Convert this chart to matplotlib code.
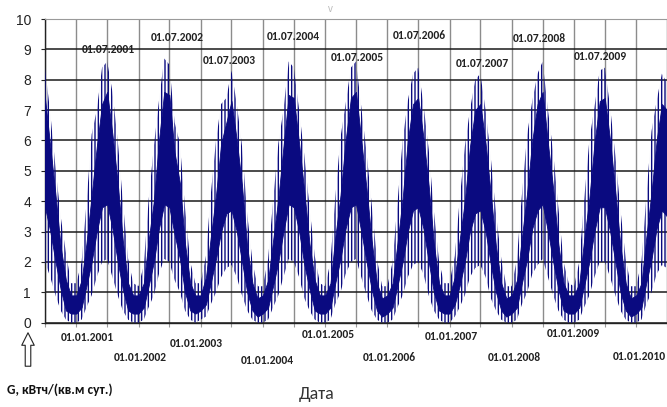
import pandas as pd
import matplotlib
matplotlib.use("Agg")
import matplotlib.pyplot as plt
import matplotlib.dates as mdates

# monthly points, 01.07.2000 ... 01.07.2010
dates = pd.date_range("2000-07-01", "2010-07-01", freq="MS")

# tops of daily spikes, kWh/(m2 day)
g_upper = [
    8.4, 6.9, 5.1, 3.5, 2.3, 1.3, 1.3, 2.0, 3.9, 6.2, 7.0, 8.4,
    8.6, 7.6, 6.0, 4.0, 2.1, 1.3, 1.2, 1.9, 4.0, 5.8, 7.3, 8.7,
    8.5, 6.6, 5.9, 3.8, 2.0, 1.3, 1.3, 2.2, 4.2, 6.0, 7.2, 7.4,
    8.3, 7.2, 5.8, 3.6, 2.0, 1.2, 1.2, 2.1, 4.0, 5.9, 7.0, 8.6,
    8.4, 7.0, 5.5, 3.8, 2.2, 1.3, 1.2, 2.0, 4.1, 6.1, 7.2, 8.4,
    8.6, 7.1, 5.6, 3.9, 2.1, 1.2, 1.2, 2.0, 3.9, 6.0, 7.3, 8.2,
    8.4, 7.2, 5.7, 3.7, 2.0, 1.3, 1.3, 2.2, 4.0, 5.8, 7.0, 8.0,
    8.2, 7.0, 5.4, 3.6, 2.1, 1.2, 1.2, 2.1, 4.2, 6.2, 7.3, 8.2,
    8.6, 7.0, 5.6, 3.8, 2.0, 1.3, 1.2, 2.0, 4.0, 6.0, 7.1, 8.3,
    8.4, 7.1, 5.5, 3.7, 2.1, 1.2, 1.2, 2.0, 4.1, 6.3, 7.3, 8.2,
    7.9,
]

# dense part of the daily values
g_core_hi = [
    7.4, 5.8, 4.2, 2.5, 1.4, 0.9, 0.9, 1.4, 2.6, 4.2, 5.8, 7.2,
    7.6, 6.2, 4.6, 2.7, 1.3, 0.9, 0.9, 1.3, 2.7, 4.0, 6.0, 7.6,
    7.5, 5.6, 4.6, 2.6, 1.3, 0.9, 0.9, 1.5, 2.8, 4.2, 5.9, 6.6,
    7.3, 6.0, 4.5, 2.5, 1.3, 0.8, 0.9, 1.4, 2.7, 4.1, 5.8, 7.5,
    7.4, 5.9, 4.3, 2.6, 1.4, 0.9, 0.9, 1.3, 2.8, 4.2, 6.0, 7.4,
    7.6, 6.0, 4.4, 2.7, 1.3, 0.8, 0.9, 1.3, 2.6, 4.1, 6.0, 7.2,
    7.4, 6.1, 4.5, 2.6, 1.3, 0.9, 0.9, 1.5, 2.7, 4.0, 5.8, 7.0,
    7.2, 5.9, 4.2, 2.5, 1.3, 0.8, 0.9, 1.4, 2.8, 4.3, 6.0, 7.2,
    7.6, 5.9, 4.4, 2.6, 1.3, 0.9, 0.9, 1.3, 2.7, 4.1, 5.9, 7.3,
    7.4, 6.0, 4.3, 2.5, 1.3, 0.8, 0.9, 1.3, 2.8, 4.3, 6.0, 7.2,
    7.0,
]

g_core_lo = [
    3.8, 3.0, 2.0, 1.1, 0.4, 0.3, 0.3, 0.5, 1.2, 2.0, 3.0, 3.8,
    3.9, 3.1, 2.0, 1.1, 0.4, 0.3, 0.3, 0.5, 1.2, 2.0, 3.1, 3.9,
    3.8, 2.9, 2.1, 1.0, 0.4, 0.3, 0.4, 0.6, 1.3, 2.1, 3.0, 3.6,
    3.7, 3.0, 2.0, 1.0, 0.4, 0.2, 0.3, 0.5, 1.2, 2.0, 3.0, 3.9,
    3.8, 3.0, 1.9, 1.1, 0.4, 0.3, 0.3, 0.5, 1.3, 2.1, 3.1, 3.8,
    3.9, 3.0, 2.0, 1.1, 0.4, 0.2, 0.3, 0.5, 1.2, 2.0, 3.0, 3.7,
    3.8, 3.1, 2.0, 1.0, 0.4, 0.3, 0.3, 0.6, 1.2, 2.0, 3.0, 3.6,
    3.7, 3.0, 1.9, 1.0, 0.4, 0.2, 0.3, 0.5, 1.3, 2.1, 3.1, 3.7,
    3.9, 3.0, 2.0, 1.1, 0.4, 0.3, 0.3, 0.5, 1.2, 2.0, 3.0, 3.8,
    3.8, 3.0, 2.0, 1.0, 0.4, 0.2, 0.3, 0.5, 1.3, 2.1, 3.1, 3.7,
    3.5,
]

# bottoms of daily spikes
g_lower = [
    2.0, 1.5, 0.9, 0.4, 0.1, 0.0, 0.0, 0.1, 0.5, 0.9, 1.5, 2.0,
    2.1, 1.5, 0.9, 0.4, 0.1, 0.0, 0.0, 0.1, 0.5, 0.9, 1.6, 2.1,
    2.0, 1.4, 1.0, 0.4, 0.1, 0.0, 0.1, 0.2, 0.6, 1.0, 1.5, 1.8,
    1.9, 1.5, 0.9, 0.4, 0.1, 0.0, 0.0, 0.1, 0.5, 0.9, 1.5, 2.1,
    2.0, 1.5, 0.8, 0.4, 0.1, 0.0, 0.0, 0.1, 0.6, 1.0, 1.6, 2.0,
    2.1, 1.5, 0.9, 0.4, 0.1, 0.0, 0.0, 0.1, 0.5, 0.9, 1.5, 1.9,
    2.0, 1.6, 0.9, 0.4, 0.1, 0.0, 0.0, 0.2, 0.5, 0.9, 1.5, 1.8,
    1.9, 1.5, 0.8, 0.4, 0.1, 0.0, 0.0, 0.1, 0.6, 1.0, 1.6, 1.9,
    2.1, 1.5, 0.9, 0.4, 0.1, 0.0, 0.0, 0.1, 0.5, 0.9, 1.5, 2.0,
    2.0, 1.5, 0.9, 0.4, 0.1, 0.0, 0.0, 0.1, 0.6, 1.0, 1.6, 1.9,
    1.8,
]

summer_labels = ["01.07.2001", "01.07.2002", "01.07.2003", "01.07.2004", "01.07.2005",
                 "01.07.2006", "01.07.2007", "01.07.2008", "01.07.2009"]
winter_labels = ["01.01.2001", "01.01.2002", "01.01.2003", "01.01.2004", "01.01.2005",
                 "01.01.2006", "01.01.2007", "01.01.2008", "01.01.2009", "01.01.2010"]

# label layout: height (axis units) and sideways shift (pixels)
summer_y = [9.0, 9.4, 8.64, 9.43, 8.74, 9.46, 8.54, 9.37, 8.77]
summer_dx = [1, 8, -2.5, -1, 1, 1, 2, -3, -5]
winter_y = [-0.5, -1.13, -0.67, -1.26, -0.4, -1.13, -0.47, -1.13, -0.34, -1.1]
winter_dx = [11, 1.5, -4.7, 4, 3, 1.5, 1.5, 3, -1, 2.7]

navy = "#0a0a80"
narrow = ["Carlito", "Roboto Condensed", "PT Sans Narrow", "DejaVu Sans"]
plt.rcParams["hatch.color"] = navy
plt.rcParams["hatch.linewidth"] = 1.0
plt.rcParams["font.family"] = ["Liberation Sans", "DejaVu Sans"]

fig = plt.figure(figsize=(6.67, 4.07), dpi=100)
ax = fig.add_axes([45 / 667, 84.3 / 407, 622 / 667, 303.7 / 407])

ax.fill_between(dates, g_lower, g_upper, facecolor="none", edgecolor=navy,
                hatch="|||||", linewidth=0, zorder=3)
ax.fill_between(dates, g_core_lo, g_core_hi, facecolor=navy, edgecolor=navy,
                linewidth=0.6, zorder=4)

ax.set_xlim(pd.Timestamp("2000-07-01"), pd.Timestamp("2010-07-01"))
ax.set_ylim(0, 10)
ax.set_yticks(range(0, 11))
ax.set_xticks(pd.date_range("2000-07-01", "2010-07-01", freq="6MS"))
ax.xaxis.set_major_formatter(mdates.DateFormatter(""))

ax.grid(axis="y", color="#1a1a1a", linewidth=1.1, zorder=1)
ax.grid(axis="x", color="#8c8c8c", linewidth=1.0, zorder=1)
ax.set_axisbelow(True)
ax.tick_params(axis="y", length=3, width=0.8, pad=7, labelsize=10, colors="#222222")
ax.tick_params(axis="x", length=3, width=0.8, colors="#999999", direction="out")
for side in ["right", "top"]:
    ax.spines[side].set_color("#9a9a9a")
for side in ["left", "bottom"]:
    ax.spines[side].set_color("#222222")
    ax.spines[side].set_linewidth(1.0)

label_font = dict(family=narrow, fontweight="bold", fontsize=8.3,
                  color="#222222", ha="center", va="center")
for text, yv, dx, d in zip(summer_labels, summer_y, summer_dx,
                           pd.date_range("2001-07-01", "2009-07-01", freq="12MS")):
    ax.annotate(text, xy=(d, yv), xytext=(dx * 0.72, 0), textcoords="offset points",
                annotation_clip=False, zorder=5, **label_font)
for text, yv, dx, d in zip(winter_labels, winter_y, winter_dx,
                           pd.date_range("2001-01-01", "2010-01-01", freq="12MS")):
    ax.annotate(text, xy=(d, yv), xytext=(dx * 0.72, 0), textcoords="offset points",
                annotation_clip=False, zorder=5, **label_font)

fig.text(317 / 667, 1 - 394 / 407, "Дата", ha="center", va="center", fontsize=13,
         family=narrow, color="#333333")
fig.text(60 / 667, 1 - 390 / 407, "G, кВтч/(кв.м сут.)", ha="center", va="center",
         fontsize=9.6, fontweight="bold", family=narrow, color="#111111")
fig.text(330 / 667, 1 - 9 / 407, "v", ha="center", va="center", fontsize=7, color="#bbbbbb")

# hollow arrow pointing at the value axis
ax.annotate("", xy=(28, 407 - 330), xytext=(28, 407 - 369),
            xycoords="figure pixels", textcoords="figure pixels",
            arrowprops=dict(arrowstyle="simple,head_length=0.9,head_width=0.9,tail_width=0.4",
                            fc="white", ec="#222222", lw=0.8))

fig.savefig("out.png", dpi=100)
